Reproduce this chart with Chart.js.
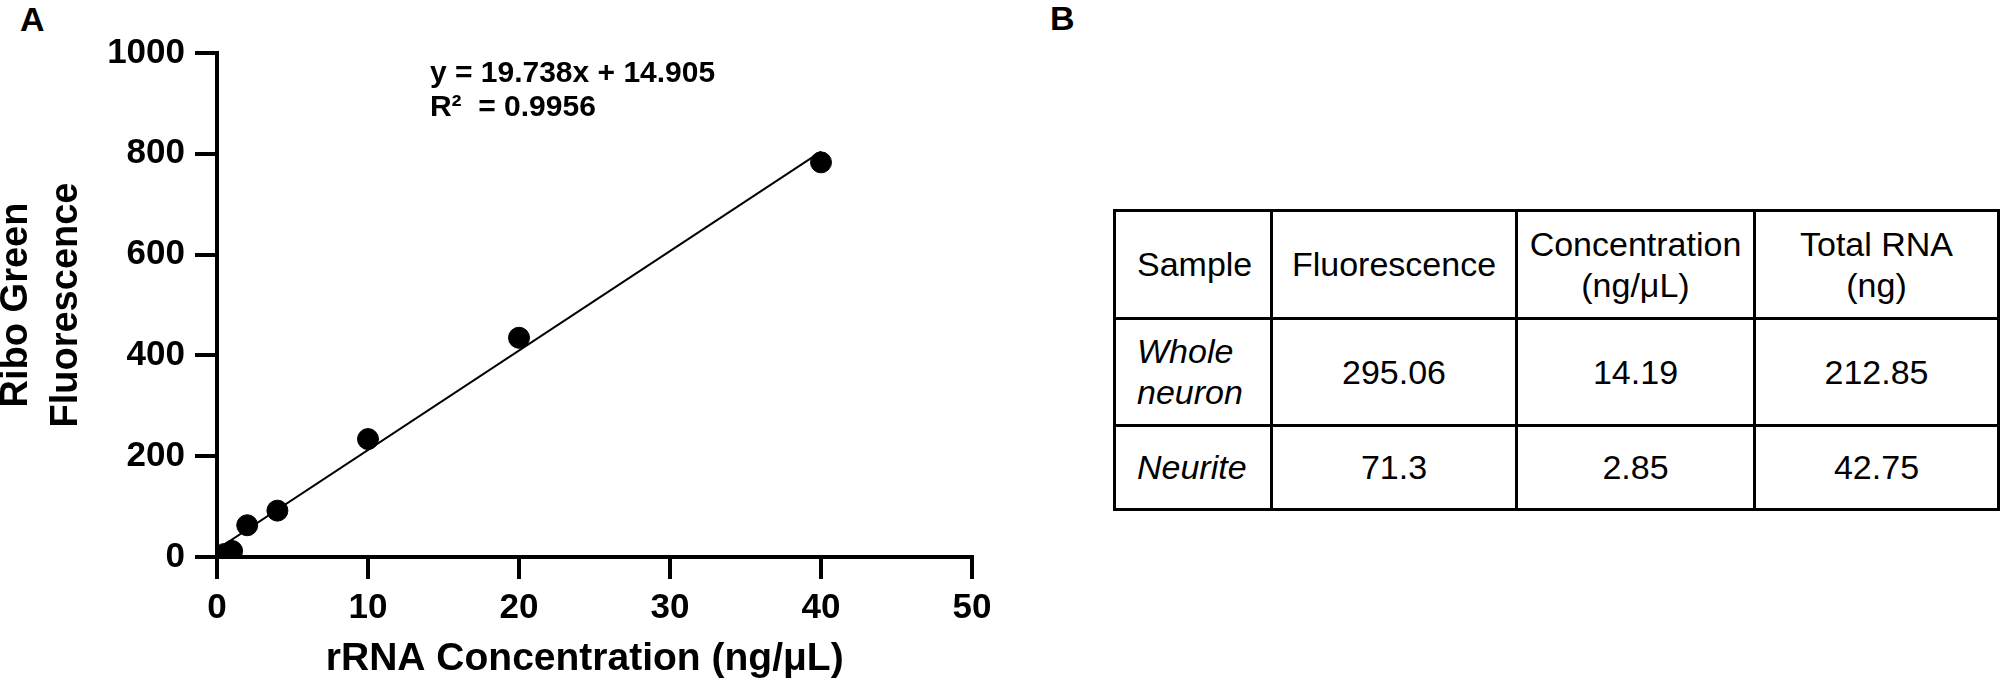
<!DOCTYPE html>
<html>
<head>
<meta charset="utf-8">
<script src="https://cdn.jsdelivr.net/npm/chart.js@4"></script>
<style>
    body { margin: 0; width: 2000px; height: 691px; background: #fff; position: relative; overflow: hidden; font-family: "Liberation Sans", Arial, sans-serif; }
    .panel-label { position: absolute; font-weight: bold; font-size: 34px; line-height: 34px; color: #000; }
    #chartBox { position: absolute; left: 0; top: 0; width: 1000px; height: 691px; }
    #rnaTable { position: absolute; left: 1113px; top: 209px; width: 884px; border-collapse: collapse; table-layout: fixed; font-size: 34px; color: #000; }
    #rnaTable td { border: 3px solid #000; text-align: center; vertical-align: middle; line-height: 41px; padding: 0; }
    #rnaTable td.sample { text-align: left; padding-left: 21px; font-style: italic; }
    #rnaTable tr.head td.sample { font-style: normal; }
</style>
</head>
<body>
<div class="panel-label" style="left:20px; top:2px;">A</div>
<div class="panel-label" style="left:1050px; top:1px;">B</div>
<div id="chartBox"><canvas id="stdCurve" width="1000" height="691"></canvas></div>
<table id="rnaTable">
    <colgroup><col style="width:157px"><col style="width:245px"><col style="width:238px"><col style="width:244px"></colgroup>
    <tbody id="tableBody"></tbody>
</table>

<script>
// standard curve points
const concentrations = [0, 0.5, 1, 2, 4, 10, 20, 40];
const fluorescence = [0, 6, 12, 63, 92, 234, 435, 783];

// linear fit printed on the plot
const slope = 19.738;
const intercept = 14.905;
const rSquared = 0.9956;
const fitRange = [0, 40];

const xTicks = [0, 10, 20, 30, 40, 50];
const yTicks = [0, 200, 400, 600, 800, 1000];

// table B
const tableHeaders = ['Sample', 'Fluorescence', 'Concentration<br>(ng/μL)', 'Total RNA<br>(ng)'];
const sampleNames = ['Whole<br>neuron', 'Neurite'];
const sampleFluorescence = ['295.06', '71.3'];
const sampleConcentration = ['14.19', '2.85'];
const sampleTotalRNA = ['212.85', '42.75'];

const fontFamily = '"Liberation Sans", Arial, sans-serif';

const scatterPoints = concentrations.map((c, i) => ({ x: c, y: fluorescence[i] }));
const fitPoints = fitRange.map((x) => ({ x: x, y: slope * x + intercept }));

const equationLabel = {
    id: 'equationLabel',
    afterDraw(chart, args, opts) {
        const ctx = chart.ctx;
        const px = chart.scales.x.getPixelForValue(opts.x);
        const py = chart.scales.y.getPixelForValue(opts.y);
        ctx.save();
        ctx.fillStyle = '#000';
        ctx.font = `bold ${opts.size}px ${fontFamily}`;
        ctx.textAlign = 'left';
        ctx.textBaseline = 'alphabetic';
        opts.lines.forEach((line, i) => {
            ctx.fillText(line, px, py + i * opts.gap);
        });
        ctx.restore();
    }
};

const axisStyle = (ticks, min, max, step, pad) => ({
    type: 'linear',
    min: min,
    max: max,
    afterBuildTicks: (scale) => {
        scale.ticks = ticks.map((v) => ({ value: v }));
    },
    border: { display: true, color: '#000', width: 4 },
    grid: {
        drawOnChartArea: false,
        drawTicks: true,
        tickLength: 22,
        tickWidth: 4,
        tickColor: '#000',
        color: '#000',
        lineWidth: 4
    },
    ticks: {
        stepSize: step,
        padding: pad,
        color: '#000',
        font: { family: fontFamily, size: 35, weight: 'bold' },
        maxRotation: 0,
        callback: (value) => String(value)
    }
});

const xAxis = axisStyle(xTicks, 0, 50, 10, 8);
xAxis.afterFit = (scale) => { scale.height = 134; };
xAxis.title = {
    display: true,
    // trailing en space nudges the centred title a little to the left, as in the figure
    text: 'rRNA Concentration (ng/μL)\u2002',
    color: '#000',
    font: { family: fontFamily, size: 39, weight: 'bold', lineHeight: 1.2 },
    padding: { top: 0, bottom: 8 }
};

const yAxis = axisStyle(yTicks, 0, 1000, 200, 10);
yAxis.afterFit = (scale) => { scale.width = 217; };
yAxis.title = {
    display: true,
    text: ['Ribo Green', 'Fluorescence'],
    color: '#000',
    font: { family: fontFamily, size: 38, weight: 'bold', lineHeight: 1.3 },
    padding: { top: -8, bottom: 0 }
};

const chartCanvas = document.getElementById('stdCurve').getContext('2d');
const stdChart = new Chart(chartCanvas, {
    type: 'scatter',
    data: {
        datasets: [
            {
                label: 'Linear fit',
                type: 'line',
                data: fitPoints,
                borderColor: '#000',
                borderWidth: 2,
                pointRadius: 0,
                fill: false,
                order: 2
            },
            {
                label: 'Standards',
                data: scatterPoints,
                backgroundColor: '#000',
                borderColor: '#000',
                pointRadius: 10.5,
                pointHoverRadius: 10.5,
                order: 1
            }
        ]
    },
    options: {
        responsive: false,
        animation: false,
        devicePixelRatio: 1,
        layout: { padding: { left: 0, top: 53, right: 28, bottom: 0 } },
        scales: { x: xAxis, y: yAxis },
        plugins: {
            legend: { display: false },
            tooltip: { enabled: false },
            equationLabel: {
                x: 14.1,
                y: 943,
                size: 30,
                gap: 34,
                lines: [`y = ${slope}x + ${intercept}`, `R²  = ${rSquared}`]
            }
        }
    },
    plugins: [equationLabel]
});

const buildTable = () => {
    const body = document.getElementById('tableBody');
    const head = document.createElement('tr');
    head.className = 'head';
    head.style.height = '108px';
    tableHeaders.forEach((h, i) => {
        const td = document.createElement('td');
        if (i === 0) td.className = 'sample';
        td.innerHTML = h;
        head.appendChild(td);
    });
    body.appendChild(head);

    const rowHeights = ['107px', '84px'];
    sampleNames.forEach((name, r) => {
        const tr = document.createElement('tr');
        tr.style.height = rowHeights[r];
        [name, sampleFluorescence[r], sampleConcentration[r], sampleTotalRNA[r]].forEach((val, i) => {
            const td = document.createElement('td');
            if (i === 0) td.className = 'sample';
            td.innerHTML = val;
            tr.appendChild(td);
        });
        body.appendChild(tr);
    });
};

buildTable();
</script>
</body>
</html>
